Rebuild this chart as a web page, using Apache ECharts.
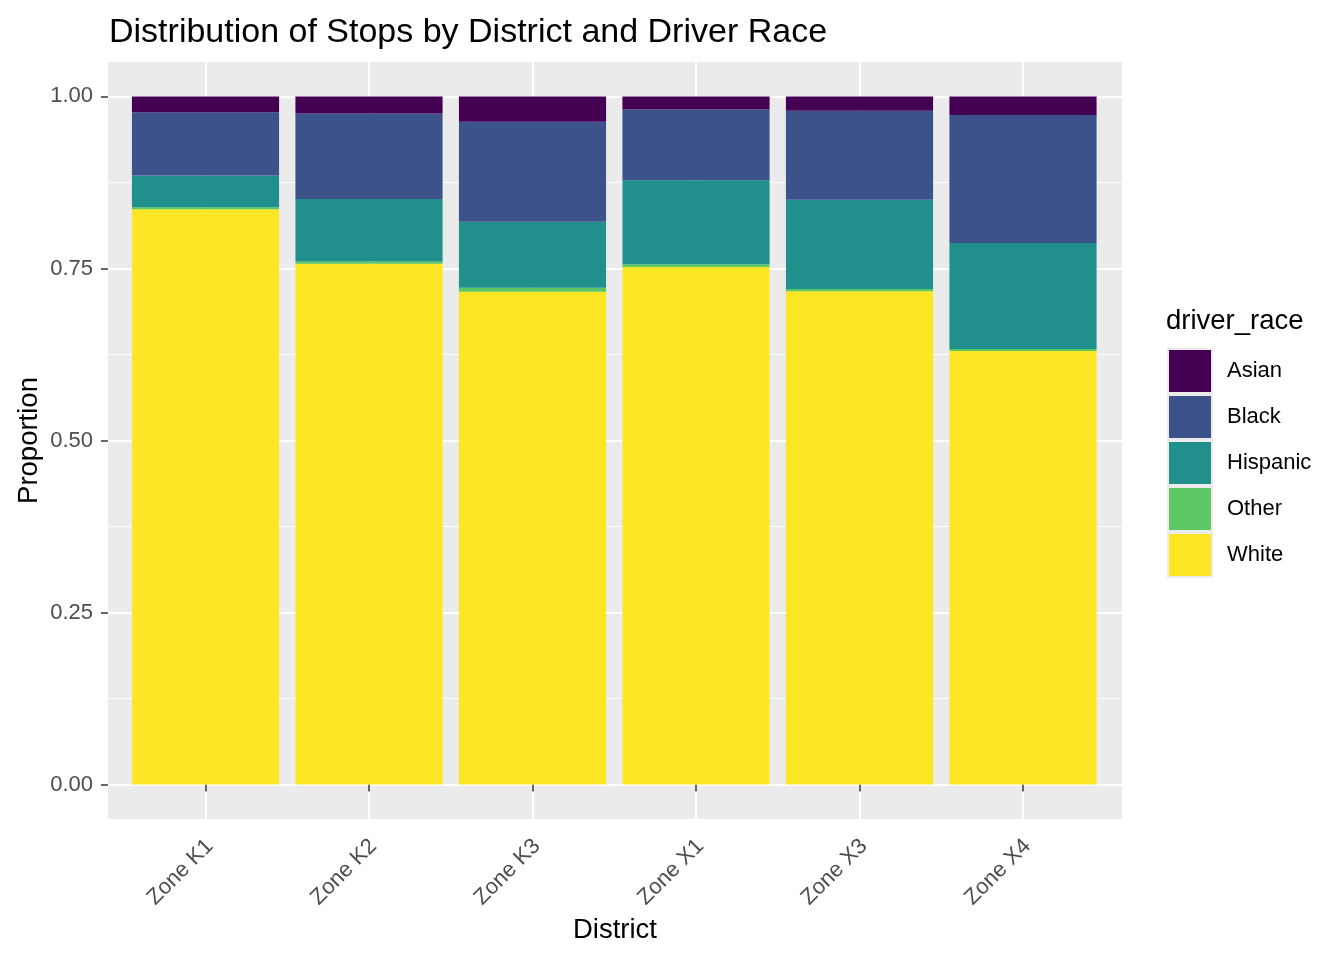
<!DOCTYPE html>
<html>
<head>
<meta charset="utf-8">
<script src="https://cdn.jsdelivr.net/npm/echarts@6/dist/echarts.min.js"></script>
<style>
html,body{margin:0;padding:0;background:#fff;}
#chart{width:1344px;height:960px;}
</style>
</head>
<body>
<div id="chart"></div>
<script>
var districts = ['Zone K1', 'Zone K2', 'Zone K3', 'Zone X1', 'Zone X3', 'Zone X4'];
var raceOrder = ['Asian', 'Black', 'Hispanic', 'Other', 'White'];
var white    = [0.836, 0.757, 0.716, 0.752, 0.717, 0.630];
var other    = [0.003, 0.003, 0.006, 0.004, 0.003, 0.003];
var hispanic = [0.046, 0.091, 0.096, 0.122, 0.130, 0.154];
var black    = [0.092, 0.124, 0.145, 0.103, 0.129, 0.186];
var asian    = [0.023, 0.025, 0.037, 0.019, 0.021, 0.027];
var yTicks = [0, 0.25, 0.5, 0.75, 1];

var colors = {Asian:'#440154', Black:'#3B528B', Hispanic:'#21908C', Other:'#5DC863', White:'#FDE725'};
var FONT = "'Liberation Sans', Arial, sans-serif";

var chart = echarts.init(document.getElementById('chart'), null, {renderer:'canvas'});

function barSeries(name, data) {
  return {
    name: name, type: 'bar', stack: 'total', data: data,
    xAxisIndex: 2, yAxisIndex: 2, barWidth: '90%', clip: false,
    itemStyle: {color: colors[name]}, emphasis: {disabled: true},
    animation: false
  };
}

var option = {
  animation: false,
  backgroundColor: '#ffffff',
  textStyle: {fontFamily: FONT},
  grid: [
    {left:108, right:222, top:62, bottom:141, show:true, backgroundColor:'#EBEBEB', borderWidth:0, containLabel:false, outerBoundsMode:'none'},
    {left:108, right:222, top:96.4, bottom:175.4, show:false, containLabel:false, outerBoundsMode:'none'},
    {left:205.5, right:321, top:62, bottom:141, show:false, containLabel:false, outerBoundsMode:'none'}
  ],
  xAxis: [
    {gridIndex:0, type:'value', show:false},
    {gridIndex:1, type:'value', show:false},
    {gridIndex:2, type:'category', data: districts, boundaryGap:false,
     axisLine:{show:false},
     axisTick:{show:true, length:7, lineStyle:{color:'#333333', width:1.5}},
     splitLine:{show:true, lineStyle:{color:'#ffffff', width:2}},
     axisLabel:{rotate:45, margin:28, fontSize:22, color:'#4D4D4D', fontFamily:FONT, interval:0,
                padding:[0,-6,0,0]}
    }
  ],
  yAxis: [
    {gridIndex:0, type:'value', show:false},
    {gridIndex:1, type:'value', min:yTicks[0], max:yTicks[yTicks.length-1], interval:0.25,
     axisLine:{show:false},
     axisTick:{show:true, length:7, lineStyle:{color:'#333333', width:1.5}},
     axisLabel:{margin:15, fontSize:22, color:'#4D4D4D', fontFamily:FONT,
                formatter:function(v){return v.toFixed(2);}},
     splitLine:{show:true, lineStyle:{color:'#ffffff', width:2}},
     minorTick:{show:false, splitNumber:2},
     minorSplitLine:{show:true, lineStyle:{color:'#ffffff', width:1}}
    },
    {gridIndex:2, type:'value', min:-0.05, max:1.05, show:false}
  ],
  title: [
    {text:'Distribution of Stops by District and Driver Race', left:104, top:11,
     textStyle:{fontSize:34, fontWeight:'normal', color:'#000', fontFamily:FONT}}
  ],
  legend: {
    data: raceOrder, orient:'vertical', left:1162, top:343,
    itemWidth:44, itemHeight:44, itemGap:0, icon:'rect',
    itemStyle:{borderColor:'#EBEBEB', borderWidth:2},
    textStyle:{fontSize:22, color:'#000', fontFamily:FONT, padding:[0,0,0,10]},
    selectedMode:false
  },
  graphic: [
    {type:'text', left:1166, top:307, silent:true,
     style:{text:'driver_race', font:"27.5px " + FONT, fill:'#000'}},
    {type:'text', x:29, y:440.5, rotation:Math.PI/2, silent:true,
     style:{text:'Proportion', font:"27.5px " + FONT, fill:'#000', align:'center', verticalAlign:'middle'}},
    {type:'text', x:615, y:930, silent:true,
     style:{text:'District', font:"27.5px " + FONT, fill:'#000', align:'center', verticalAlign:'middle'}}
  ],
  series: [
    barSeries('White', white),
    barSeries('Other', other),
    barSeries('Hispanic', hispanic),
    barSeries('Black', black),
    barSeries('Asian', asian)
  ]
};
chart.setOption(option);
</script>
</body>
</html>
